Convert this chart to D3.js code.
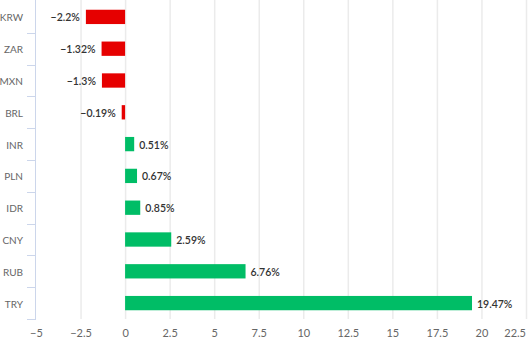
<!DOCTYPE html>
<html>
<head>
<meta charset="utf-8">
<script src="https://cdn.jsdelivr.net/npm/d3@7"></script>
<style>
  body { margin: 0; background: #fff; }
  text { font-family: Lato, "DejaVu Sans", sans-serif; }
</style>
</head>
<body>
<svg id="chart" width="530" height="352"></svg>
<script>
// currencies, top to bottom
var currencies = ["KRW", "ZAR", "MXN", "BRL", "INR", "PLN", "IDR", "CNY", "RUB", "TRY"];
var changes = [-2.2, -1.32, -1.3, -0.19, 0.51, 0.67, 0.85, 2.59, 6.76, 19.47];
var xTicks = [-5, -2.5, 0, 2.5, 5, 7.5, 10, 12.5, 15, 17.5, 20, 22.5];

var svg = d3.select("#chart");

var xScale = d3.scaleLinear()
    .domain([-5, 22.5])
    .range([36, 526]);

var yScale = d3.scaleBand()
    .domain(currencies)
    .range([1, 319])
    .paddingInner(0.55)
    .paddingOuter(0.275);

var fmt = function(v) { return String(v).replace("-", "\u2212") + "%"; };

// vertical grid lines
svg.append("g")
   .selectAll("line")
   .data(xTicks.slice(1))
   .enter().append("line")
   .attr("x1", d => xScale(d) + 0.5)
   .attr("x2", d => xScale(d) + 0.5)
   .attr("y1", 0)
   .attr("y2", 319)
   .attr("stroke", "#ebebeb")
   .attr("stroke-width", 1.5);

// x labels
svg.append("g")
   .selectAll("text")
   .data(xTicks)
   .enter().append("text")
   .attr("x", (d, i) => i == xTicks.length - 1 ? xScale(d) : xScale(d) + 0.5)
   .attr("y", 337)
   .attr("text-anchor", (d, i) => i == xTicks.length - 1 ? "end" : "middle")
   .attr("fill", "#666")
   .style("font-size", "11px")
   .text(d => String(d).replace("-", "\u2212"));

// y axis line and ticks
var step = yScale.step();
svg.append("line")
   .attr("x1", 35.5).attr("x2", 35.5)
   .attr("y1", 0).attr("y2", 319.5)
   .attr("stroke", "#ccd6eb");

var bounds = currencies.map((c, i) => yScale(c) - yScale.paddingOuter() * step + step);
svg.append("g")
   .selectAll("line")
   .data(bounds)
   .enter().append("line")
   .attr("x1", 27).attr("x2", 36)
   .attr("y1", d => Math.round(d) + 0.5)
   .attr("y2", d => Math.round(d) + 0.5)
   .attr("stroke", "#ccd6eb");

svg.append("g")
   .selectAll("text")
   .data(currencies)
   .enter().append("text")
   .attr("x", 23)
   .attr("y", d => yScale(d) + yScale.bandwidth() / 2 + 4.5)
   .attr("text-anchor", "end")
   .attr("fill", "#666")
   .style("font-size", "10px")
   .text(d => d);

// bars
svg.append("g")
   .selectAll("rect")
   .data(currencies)
   .enter().append("rect")
   .attr("x", (d, i) => xScale(Math.min(0, changes[i])))
   .attr("y", d => yScale(d))
   .attr("width", (d, i) => Math.abs(xScale(changes[i]) - xScale(0)))
   .attr("height", yScale.bandwidth())
   .attr("fill", (d, i) => changes[i] < 0 ? "#e60000" : "#00bd66");

// value labels
svg.append("g")
   .selectAll("text")
   .data(currencies)
   .enter().append("text")
   .attr("x", (d, i) => changes[i] < 0 ? xScale(changes[i]) - 6 : xScale(changes[i]) + 5)
   .attr("y", d => yScale(d) + yScale.bandwidth() / 2 + 4.5)
   .attr("text-anchor", (d, i) => changes[i] < 0 ? "end" : "start")
   .attr("fill", "#333")
   .style("font-size", "10.5px")
   .style("font-weight", 600)
   .text((d, i) => fmt(changes[i]));
</script>
</body>
</html>
